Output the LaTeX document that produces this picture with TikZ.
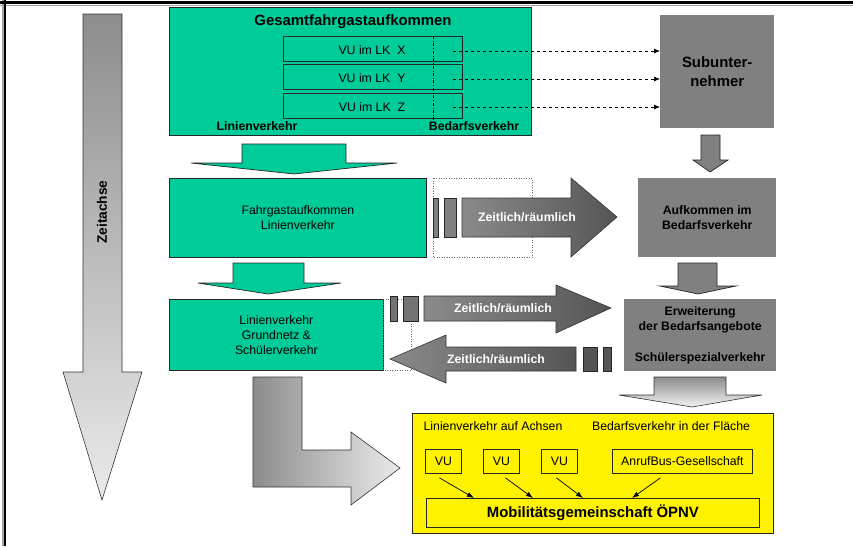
\documentclass[tikz,border=0pt]{standalone}
\usepackage{fontspec}
\setmainfont{Liberation Sans}
\usetikzlibrary{arrows.meta,calc}
\definecolor{mint}{RGB}{0,204,153}
\definecolor{boxgray}{RGB}{128,128,128}
\definecolor{darkgray2}{RGB}{85,85,85}
\definecolor{midgray}{RGB}{138,138,138}
\begin{document}
\begin{tikzpicture}[x=1pt,y=-1pt,
  sz/.style n args={2}{minimum width=#1pt,minimum height=#2pt},
  txt/.style={font=\fontsize{12.3}{15.2}\selectfont},
  btxt/.style={font=\fontsize{12.3}{15.2}\selectfont\bfseries},
  bbig/.style={font=\fontsize{14.9}{18.8}\selectfont\bfseries},
  greenbox/.style={draw=black!85,fill=mint,line width=0.8pt,inner sep=0pt,anchor=north west,align=center,txt},
  framebox/.style={draw=black!85,line width=0.7pt,inner sep=0pt,anchor=north west,txt},
  graybox/.style={fill=boxgray,inner sep=0pt,anchor=north west,align=center,btxt},
  yellowbox/.style={draw=black!85,fill=yellow,line width=0.8pt,inner sep=0pt,anchor=north west,txt},
  greenarrow/.style={draw=black!85,fill=mint,line width=0.7pt,line join=miter},
  grayarrow/.style={draw=black!85,fill=boxgray,line width=0.7pt,line join=miter},
  shadearrow/.style={draw=black!80,line width=0.6pt,line join=miter},
  stub/.style={draw=black!85,line width=0.6pt},
  dotframe/.style={draw=black!60,dotted,line width=0.5pt},
  dasharrow/.style={dashed,line width=0.7pt,-{Latex[length=6pt,width=5pt]}},
  joinarrow/.style={line width=0.7pt,-{Latex[length=7pt,width=5pt]}},
  arrowlabel/.style={text=white,btxt}
]
\useasboundingbox (0,0) rectangle (853,546);

% page frame (top and left rules)
\draw[black!35,line width=1pt] (0,5) -- (853,5);
\draw[black!35,line width=2pt] (2.5,0) -- (2.5,546);
\draw[line width=2.2pt] (0,2.4) -- (853,2.4);
\draw[line width=2pt] (5,0) -- (5,546);

% time axis
\path[shadearrow,top color=black!45,bottom color=black!8]
  (83,14) -- (122,14) -- (122,372) -- (142,372) -- (102,500) -- (63,372) -- (83,372) -- cycle;
\node[rotate=90,font=\fontsize{13.7}{16}\selectfont\bfseries] (axis) at (102,212) {Zeitachse};

% overall passenger volume
\node[greenbox,sz={362}{128}] (top) at (169,7) {};
\node[bbig] (toptitle) at (353,22) {Gesamtfahrgastaufkommen};
\node[framebox,sz={179}{25}] (vux) at (283,36) {};
\node[framebox,sz={179}{25}] (vuy) at (283,64) {};
\node[framebox,sz={179}{25}] (vuz) at (283,93) {};
\node[txt] (tx) at (372,50) {VU im LK\ \ X};
\node[txt] (ty) at (372,78) {VU im LK\ \ Y};
\node[txt] (tz) at (372,107) {VU im LK\ \ Z};
\draw[dash dot,line width=0.6pt] ($(vux.north west)+(150,0)$) -- ++(0,88);
\node[btxt] (linlab) at (257,126) {Linienverkehr};
\node[btxt] (bedlab) at (474,126) {Bedarfsverkehr};

% subcontractors
\node[graybox,bbig,sz={114}{113}] (sub) at (660,15) {Subunter-\\nehmer};
\coordinate (sx) at (453,51);
\coordinate (sy) at (453,79);
\coordinate (sz) at (453,107);
\draw[dasharrow] (sx) -- (sx -| sub.west);
\draw[dasharrow] (sy) -- (sy -| sub.west);
\draw[dasharrow] (sz) -- (sz -| sub.west);

% green flow on the left
\path[greenarrow] (242,144) -- (346,144) -- (346,163) -- (397,163) -- (294,174) -- (191,163) -- (242,163) -- cycle;
\node[greenbox,sz={257}{79}] (fahr) at (169,178) {Fahrgastaufkommen\\Linienverkehr};
\path[greenarrow] (233,263) -- (304,263) -- (304,283) -- (341,283) -- (268,294) -- (198,283) -- (233,283) -- cycle;
\node[greenbox,sz={214}{71}] (grund) at (169,299) {Linienverkehr\\Grundnetz \&\\Schülerverkehr};

% gray flow on the right
\path[grayarrow] (701,135) -- (720,135) -- (720,160) -- (728,160) -- (710,172) -- (693,160) -- (701,160) -- cycle;
\node[graybox,sz={138}{79}] (aufk) at (638,178) {Aufkommen im\\Bedarfsverkehr};
\path[grayarrow] (678,263) -- (717,263) -- (717,286) -- (736,286) -- (698,294) -- (660,286) -- (678,286) -- cycle;
\node[graybox,sz={152}{72}] (erw) at (624,299) {Erweiterung\\der Bedarfsangebote\\[15pt]Schülerspezialverkehr};
\path[shadearrow,top color=black!45,bottom color=black!5]
  (654,377) -- (726,377) -- (726,395) -- (762,395) -- (692,407) -- (619,395) -- (654,395) -- cycle;

% shift of demand, second row
\draw[dotframe] (433,178) rectangle (532,257);
\path[stub,fill=boxgray] (433,198) rectangle (438,237);
\path[stub,fill=boxgray] (444,198) rectangle (456,237);
\path[shadearrow,left color=midgray,right color=darkgray2]
  (462,198) -- (571,198) -- (571,178) -- (617,217) -- (571,257) -- (571,237) -- (462,237) -- cycle;
\node[arrowlabel] (z1) at (527,217) {Zeitlich/räumlich};

% shift of demand, third row
\draw[dotframe] (383,299) rectangle (411,370);
\path[stub,fill=boxgray!90!black] (390,296) rectangle (397,321);
\path[stub,fill=boxgray!90!black] (403,296) rectangle (418,321);
\path[shadearrow,left color=midgray,right color=darkgray2]
  (424,296) -- (556,296) -- (556,285) -- (611,308) -- (556,333) -- (556,321) -- (424,321) -- cycle;
\node[arrowlabel] (z2) at (503,308) {Zeitlich/räumlich};
\path[shadearrow,left color=midgray,right color=darkgray2]
  (576,347) -- (446,347) -- (446,335) -- (390,359) -- (446,383) -- (446,371) -- (576,371) -- cycle;
\path[stub,fill=darkgray2] (583,347) rectangle (597,371);
\path[stub,fill=darkgray2] (603,347) rectangle (611,371);
\node[arrowlabel] (z3) at (496,359) {Zeitlich/räumlich};

% bend arrow into the mobility association
\path[shadearrow,left color=black!45,right color=black!8]
  (253,377) -- (302,377) -- (302,450) -- (351,450) -- (351,432) -- (400,468) -- (351,505) -- (351,487) -- (253,487) -- cycle;

% mobility association
\node[yellowbox,sz={361}{120}] (gem) at (412,413) {};
\node[txt] (achs) at (493,426) {Linienverkehr auf Achsen};
\node[txt] (flae) at (671,426) {Bedarfsverkehr in der Fläche};
\node[yellowbox,sz={36}{24}] (vua) at (425,449) {};
\node[yellowbox,sz={36}{24}] (vub) at (483,449) {};
\node[yellowbox,sz={36}{24}] (vuc) at (541,449) {};
\node[yellowbox,sz={140}{24}] (anruf) at (612,449) {};
\node[txt] at (vua.center) {VU};
\node[txt] at (vub.center) {VU};
\node[txt] at (vuc.center) {VU};
\node[txt] at (anruf.center) {AnrufBus-Gesellschaft};
\node[yellowbox,sz={333}{29}] (mob) at (426,498) {};
\node[bbig] at (mob.center) {Mobilitätsgemeinschaft ÖPNV};
\draw[joinarrow] ([shift={(-4,4)}]vua.south) -- ([xshift=48pt]mob.north west);
\draw[joinarrow] ([shift={(4,4)}]vub.south) -- ([xshift=107pt]mob.north west);
\draw[joinarrow] ([shift={(-3,4)}]vuc.south) -- ([xshift=157pt]mob.north west);
\draw[joinarrow] ([shift={(-22,4)}]anruf.south) -- ([xshift=206pt]mob.north west);
\end{tikzpicture}
\end{document}
